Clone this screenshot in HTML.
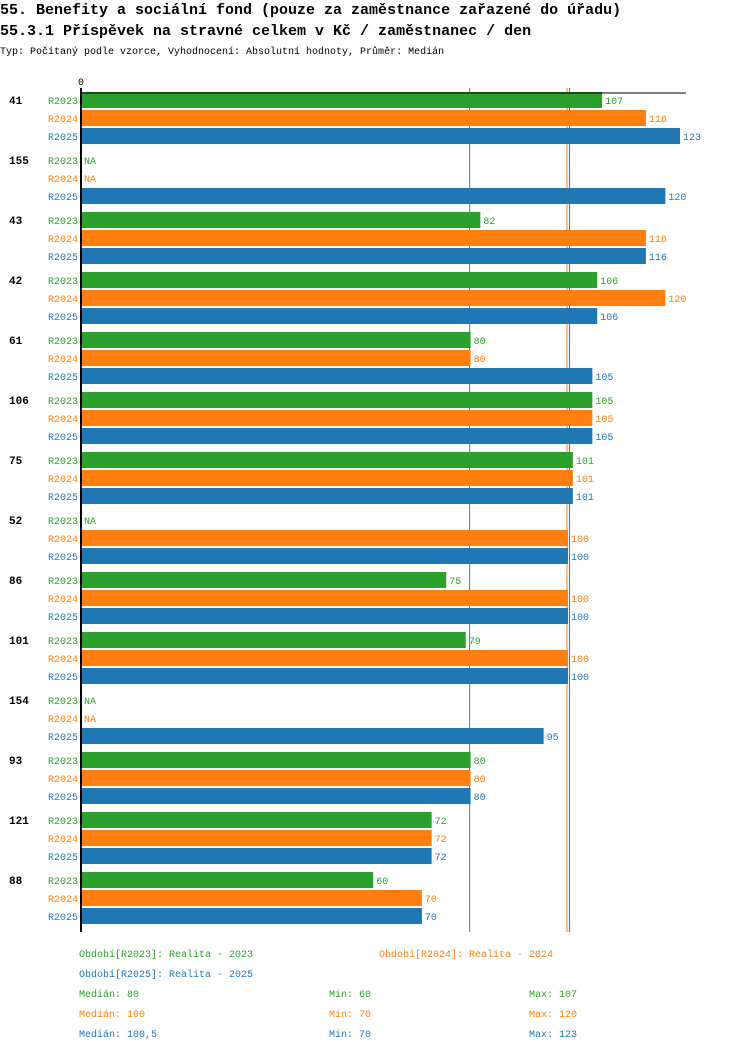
<!DOCTYPE html>
<html><head><meta charset="utf-8"><style>
body{margin:0;background:#fff;width:750px;height:1052px;overflow:hidden}
svg{display:block}
text{font-family:"Liberation Mono",monospace}
</style></head><body>
<svg id="c" width="750" height="1052">
<text x="0" y="14" font-size="15" font-weight="bold">55. Benefity a sociální fond (pouze za zaměstnance zařazené do úřadu)</text>
<text x="0" y="35" font-size="15" font-weight="bold">55.3.1 Příspěvek na stravné celkem v Kč / zaměstnanec / den</text>
<text x="0" y="54" font-size="10">Typ: Počítaný podle vzorce, Vyhodnocení: Absolutní hodnoty, Průměr: Medián</text>
</svg>
<script>
const groups=["41","155","43","42","61","106","75","52","86","101","154","93","121","88"];
const r2023=[107,null,82,106,80,105,101,null,75,79,null,80,72,60];
const r2024=[116,null,116,120,80,105,101,100,100,100,null,80,72,70];
const r2025=[123,120,116,106,105,105,101,100,100,100,95,80,72,70];
const seriesNames=["R2023","R2024","R2025"];
const medians=[80,100,100.5];
const colors=["#2ca02c","#ff7f0e","#1f77b4"];
const svg=document.getElementById('c');const NS='http://www.w3.org/2000/svg';
const FS=10;
const x=v=>81+v*4.87;
const yRow=(g,s)=>100+g*60+s*18;
function el(t,a,txt){const e=document.createElementNS(NS,t);for(const k in a)e.setAttribute(k,a[k]);if(txt!=null)e.textContent=txt;svg.appendChild(e);return e;}
const series=[r2023,r2024,r2025];
medians.forEach((m,i)=>{let ln=el('line',{x1:x(m)-1,x2:x(m)-1,y1:88,y2:932,stroke:colors[i],'stroke-width':1});
 
 });
let t=el('text',{x:78,y:85,'font-size':FS},'0');


groups.forEach((g,gi)=>{
 let gl=el('text',{x:9,y:yRow(gi,0)+4,'font-size':11,'font-weight':'bold'},g);
 
 
 series.forEach((s,si)=>{
  const y=yRow(gi,si),c=colors[si];
  let l=el('text',{x:78,y:y+4,'font-size':FS,'text-anchor':'end',fill:c},seriesNames[si]);
  
  
  const v=s[gi];
  if(v==null){let n=el('text',{x:84,y:y+4,'font-size':FS,fill:c},'NA');
   
   return;}
  let b=el('rect',{x:81,y:y-8,width:x(v)-81,height:16,fill:c});
  
  
  let vl=el('text',{x:x(v)+3,y:y+4,'font-size':FS,fill:c},String(v));
  
  
 });
});
let ax=el('line',{x1:81,x2:686,y1:93,y2:93,stroke:'#000','stroke-width':1});


let ay=el('line',{x1:81,x2:81,y1:88,y2:932,stroke:'#000','stroke-width':2});


const legendRows=[[79,957,"Období[R2023]: Realita - 2023",0],[379,957,"Období[R2024]: Realita - 2024",1],[79,977,"Období[R2025]: Realita - 2025",2]];
legendRows.forEach(r=>{let e=el('text',{x:r[0],y:r[1],'font-size':FS,fill:colors[r[3]]},r[2]);
 
 });
const mins=[60,70,70],maxs=[107,120,123],medTxt=["80","100","100,5"];
[0,1,2].forEach(i=>{const y=997+i*20;
 let a=el('text',{x:79,y,'font-size':FS,fill:colors[i]},'Medián: '+medTxt[i]);
 
 
 let b=el('text',{x:329,y,'font-size':FS,fill:colors[i]},'Min: '+mins[i]);
 
 
 let c=el('text',{x:529,y,'font-size':FS,fill:colors[i]},'Max: '+maxs[i]);
 
 
});
</script>
</body></html>
